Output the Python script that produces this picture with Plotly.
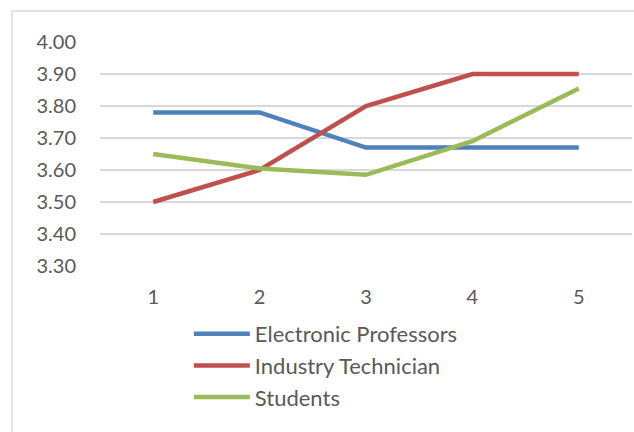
import plotly.graph_objects as go

categories = [1, 2, 3, 4, 5]
electronic_professors = [3.78, 3.78, 3.67, 3.67, 3.67]
industry_technician = [3.50, 3.60, 3.80, 3.90, 3.90]
students = [3.65, 3.605, 3.585, 3.69, 3.855]
y_ticks = [3.30, 3.40, 3.50, 3.60, 3.70, 3.80, 3.90, 4.00]

series = [
    ("Electronic Professors", electronic_professors, "#4F81BD"),
    ("Industry Technician", industry_technician, "#C0504D"),
    ("Students", students, "#9BBB59"),
]

fig = go.Figure()
for name, vals, color in series:
    fig.add_trace(go.Scatter(
        x=categories, y=vals, mode="lines", name=name,
        line=dict(color=color, width=4.5),
    ))

font_family = "Lato, 'Open Sans', sans-serif"
fig.update_layout(
    width=634, height=432,
    margin=dict(l=100, r=2, t=42, b=166, autoexpand=False),
    paper_bgcolor="white", plot_bgcolor="white",
    font=dict(family=font_family, size=20, color="#595959"),
    showlegend=True,
    legend=dict(
        orientation="v", x=0.167, xanchor="left", y=-0.21, yanchor="top",
        itemwidth=56, tracegroupgap=0,
        font=dict(family=font_family, size=22, color="#595959"),
        bgcolor="rgba(0,0,0,0)",
    ),
    xaxis=dict(
        range=[0.5, 5.5], tickvals=categories, ticktext=[str(c) for c in categories],
        showgrid=False, zeroline=False, showline=False, ticks="",
        ticklabelstandoff=17,
    ),
    yaxis=dict(
        range=[3.30, 4.00], tickvals=y_ticks, ticktext=[f"{v:.2f}" for v in y_ticks],
        showgrid=True, gridcolor="#D9D9D9", gridwidth=1.5,
        zeroline=False, showline=False, ticks="",
        ticklabelstandoff=23,
    ),
    shapes=[dict(
        type="rect", xref="paper", yref="paper",
        x0=-88/532, x1=1.2, y0=-1.0, y1=1 + 31/224,
        line=dict(color="#D9D9D9", width=1.5), fillcolor="rgba(0,0,0,0)",
        layer="below",
    )],
)

fig.write_html("out.html")
